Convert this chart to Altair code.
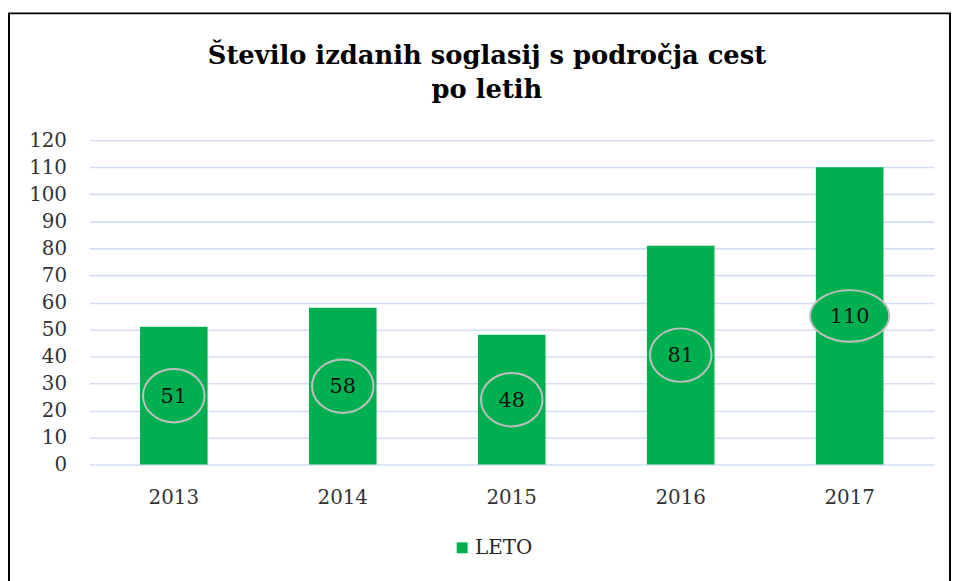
import altair as alt
import pandas as pd

years = ["2013", "2014", "2015", "2016", "2017"]
values = [51, 58, 48, 81, 110]
series_name = "LETO"
title_lines = ["Število izdanih soglasij s področja cest", "po letih"]
y_ticks = [0, 10, 20, 30, 40, 50, 60, 70, 80, 90, 100, 110, 120]

df = pd.DataFrame({"year": years, "value": values, "series": [series_name] * len(years)})

FONT = "DejaVu Serif"
GREEN = "#00B050"

x_enc = alt.X("year:N", title=None, sort=years,
              scale=alt.Scale(paddingInner=0.6, paddingOuter=0.3),
              axis=alt.Axis(labelAngle=0, domain=False, ticks=False, tickSize=0,
                            labelPadding=23, labelFontSize=20, labelFont=FONT,
                            labelColor="#333333", grid=False))

y_axis = alt.Axis(values=y_ticks, domain=False, ticks=False, tickSize=0,
                  labelPadding=23, labelFontSize=20, labelFont=FONT,
                  labelOverlap=False, labelColor="#333333",
                  gridColor="#D4DEF0", gridWidth=1.6)
y_scale = alt.Scale(domain=[0, 120], nice=False)

base = alt.Chart(df).transform_calculate(
    mid="datum.value/2", digits="toString(length(toString(datum.value)))"
)

bars = base.mark_bar(color=GREEN).encode(
    x=x_enc,
    y=alt.Y("value:Q", title=None, scale=y_scale, axis=y_axis),
    color=alt.Color("series:N", title=None,
                    scale=alt.Scale(domain=[series_name], range=[GREEN]),
                    legend=alt.Legend(orient="none", legendX=366, legendY=401,
                                      symbolType="square", symbolSize=121,
                                      symbolStrokeWidth=0, labelFontSize=20,
                                      labelFont=FONT, labelColor="#262626",
                                      labelOffset=3, padding=0)),
)

ell2 = "M-1,0A1,0.87 0 1,0 1,0A1,0.87 0 1,0 -1,0Z"
ell3 = "M-1.29,0A1.29,0.84 0 1,0 1.29,0A1.29,0.84 0 1,0 -1.29,0Z"

ellipses = base.mark_point(filled=False, fill=GREEN, fillOpacity=1, stroke="#BFBFBF",
                           strokeWidth=2, opacity=1, size=3844).encode(
    x=x_enc,
    y=alt.Y("mid:Q", title=None, scale=y_scale, axis=y_axis),
    shape=alt.Shape("digits:N", scale=alt.Scale(domain=["2", "3"], range=[ell2, ell3]),
                    legend=None),
)

labels = base.mark_text(
    font=FONT, fontSize=21, color="#111111", baseline="middle", dy=1
).encode(
    x=x_enc,
    y=alt.Y("mid:Q", title=None, scale=y_scale, axis=y_axis),
    text=alt.Text("value:Q"),
)

title = alt.Chart(alt.Data(values=[{}])).mark_text(
    font=FONT, fontSize=26, fontWeight="bold", color="#000000",
    align="center", baseline="alphabetic", lineHeight=34
).encode(
    x=alt.value(401), y=alt.value(-77), text=alt.value(title_lines)
)

frame = alt.Chart(alt.Data(values=[{}])).mark_rect(
    fill=None, stroke="black", strokeWidth=2
).encode(
    x=alt.value(-81), x2=alt.value(868), y=alt.value(-128), y2=alt.value(470)
)

chart = alt.layer(frame, bars, ellipses, labels, title).properties(
    width=852, height=327,
    autosize=alt.AutoSizeParams(type="none"),
    padding={"left": 82, "top": 131, "right": 18, "bottom": 115},
).configure_view(stroke=None)

chart.save("out.html", embed_options={"renderer": "svg", "actions": False})
